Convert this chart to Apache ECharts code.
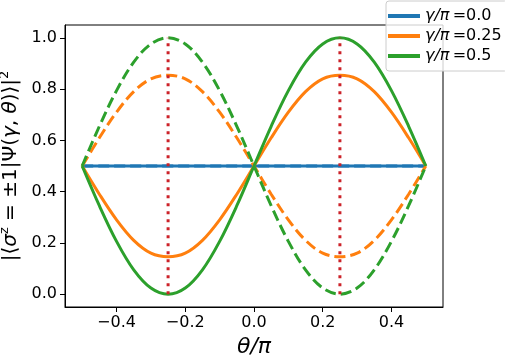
<!DOCTYPE html>
<html>
<head>
<meta charset="utf-8">
<script src="https://cdn.jsdelivr.net/npm/echarts@6/dist/echarts.min.js"></script>
<style>
  html, body { margin: 0; padding: 0; background: #fff; }
  #chart { width: 505px; height: 359px; }
</style>
</head>
<body>
<div id="chart"></div>
<script>
// theta / pi sample points
const theta = [-0.5, -0.45, -0.4, -0.35, -0.3, -0.25, -0.2, -0.15, -0.1, -0.05, 0,
  0.05, 0.1, 0.15, 0.2, 0.25, 0.3, 0.35, 0.4, 0.45, 0.5];

// gamma/pi = 0.0 (both sigma = +1 and -1 sit on 0.5)
const g0Plus = [0.5, 0.5, 0.5, 0.5, 0.5, 0.5, 0.5, 0.5, 0.5, 0.5, 0.5,
  0.5, 0.5, 0.5, 0.5, 0.5, 0.5, 0.5, 0.5, 0.5, 0.5];
const g0Minus = [0.5, 0.5, 0.5, 0.5, 0.5, 0.5, 0.5, 0.5, 0.5, 0.5, 0.5,
  0.5, 0.5, 0.5, 0.5, 0.5, 0.5, 0.5, 0.5, 0.5, 0.5];

// gamma/pi = 0.25
const g25Plus = [0.5, 0.39, 0.29, 0.21, 0.16, 0.146, 0.16, 0.21, 0.29, 0.39, 0.5,
  0.61, 0.71, 0.79, 0.84, 0.854, 0.84, 0.79, 0.71, 0.61, 0.5];
const g25Minus = [0.5, 0.61, 0.71, 0.79, 0.84, 0.854, 0.84, 0.79, 0.71, 0.61, 0.5,
  0.39, 0.29, 0.21, 0.16, 0.146, 0.16, 0.21, 0.29, 0.39, 0.5];

// gamma/pi = 0.5
const g5Plus = [0.5, 0.345, 0.206, 0.095, 0.024, 0.0, 0.024, 0.095, 0.206, 0.345, 0.5,
  0.655, 0.794, 0.905, 0.976, 1.0, 0.976, 0.905, 0.794, 0.655, 0.5];
const g5Minus = [0.5, 0.655, 0.794, 0.905, 0.976, 1.0, 0.976, 0.905, 0.794, 0.655, 0.5,
  0.345, 0.206, 0.095, 0.024, 0.0, 0.024, 0.095, 0.206, 0.345, 0.5];

// red dotted markers
const markerX = [-0.25, 0.25];
const markerY = [0, 1];

const gammaLabels = ['0.0', '0.25', '0.5'];
const xTicks = [-0.4, -0.2, 0.0, 0.2, 0.4];
const yTicks = [0.0, 0.2, 0.4, 0.6, 0.8, 1.0];

const colors = ['#1f77b4', '#ff7f0e', '#2ca02c'];
const curves = [[g0Plus, g0Minus], [g25Plus, g25Minus], [g5Plus, g5Minus]];

function pairs(ys) {
  return theta.map((t, i) => [t, ys[i]]);
}
function fmt(v) {
  const s = Math.abs(v).toFixed(1);
  return v < -1e-9 ? '\u2212' + s : s;
}

const series = [];
curves.forEach((c, k) => {
  const name = 'γ/π=' + gammaLabels[k];
  series.push({
    name: name, type: 'line', data: pairs(c[0]), smooth: 0.35,
    showSymbol: false, symbol: 'none', color: colors[k],
    lineStyle: { width: 3, color: colors[k] }, z: 2 + k
  });
  series.push({
    name: name, type: 'line', data: pairs(c[1]), smooth: 0.35,
    showSymbol: false, symbol: 'none', color: colors[k],
    lineStyle: { width: 3, color: colors[k], type: [11, 5] }, z: 2 + k
  });
});
markerX.forEach(x => {
  series.push({
    type: 'line', data: markerY.map(y => [x, y]), symbol: 'none',
    lineStyle: { width: 3, color: '#cc2229', type: [3, 5], cap: 'butt' }, z: 6
  });
});

const chart = echarts.init(document.getElementById('chart'));
chart.setOption({
  animation: false,
  grid: {
    left: 65, right: 62, top: 25, bottom: 52,
    outerBoundsMode: 'none', containLabel: false,
    show: true, borderColor: '#000', borderWidth: 1
  },
  legend: {
    data: gammaLabels.map(g => 'γ/π=' + g),
    orient: 'vertical',
    left: 386, top: 1,
    padding: [6, 6, 6, 2],
    itemGap: 2,
    itemWidth: 32, itemHeight: 4,
    icon: 'rect',
    backgroundColor: 'rgba(255,255,255,0.8)',
    borderColor: '#ccc', borderWidth: 1, borderRadius: 3,
    formatter: n => '{m|γ/π}{t|\u2009=' + n.split('=')[1] + '}',
    textStyle: {
      fontSize: 16, lineHeight: 18,
      rich: {
        m: { fontFamily: 'DejaVu Sans', fontStyle: 'italic', fontSize: 16, color: '#000', lineHeight: 18 },
        t: { fontFamily: 'DejaVu Sans', fontSize: 16, color: '#000', lineHeight: 18 }
      }
    }
  },
  xAxis: {
    type: 'value', min: -0.55, max: 0.55,
    name: 'θ/π', nameLocation: 'middle', nameGap: 25,
    nameTextStyle: { fontFamily: 'DejaVu Sans', fontStyle: 'italic', fontSize: 22, color: '#000' },
    axisLine: { show: true, onZero: false, lineStyle: { color: '#000', width: 1 } },
    axisTick: { show: true, length: 5, customValues: xTicks, lineStyle: { color: '#000' } },
    axisLabel: { customValues: xTicks, formatter: fmt, fontFamily: 'DejaVu Sans', fontSize: 16, color: '#000', margin: 8 },
    splitLine: { show: false }
  },
  yAxis: {
    type: 'value', min: -0.05, max: 1.05,
    name: '{n||⟨}{i|σ}{s|z}{n| = ±1|Ψ(}{i|γ}{n|, }{i|θ}{n|)⟩|}{s|2}',
    nameLocation: 'middle', nameGap: 36, nameRotate: 90,
    nameTextStyle: {
      color: '#000',
      rich: {
        n: { fontFamily: 'DejaVu Sans', fontSize: 20, color: '#000', lineHeight: 26 },
        i: { fontFamily: 'DejaVu Sans', fontStyle: 'italic', fontSize: 20, color: '#000', lineHeight: 26 },
        s: { fontFamily: 'DejaVu Sans', fontSize: 13, color: '#000', verticalAlign: 'top', lineHeight: 26 }
      }
    },
    axisLine: { show: true, onZero: false, lineStyle: { color: '#000', width: 1 } },
    axisTick: { show: true, length: 5, customValues: yTicks, lineStyle: { color: '#000' } },
    axisLabel: { customValues: yTicks, formatter: fmt, fontFamily: 'DejaVu Sans', fontSize: 16, color: '#000', margin: 8 },
    splitLine: { show: false }
  },
  series: series
});
</script>
</body>
</html>
